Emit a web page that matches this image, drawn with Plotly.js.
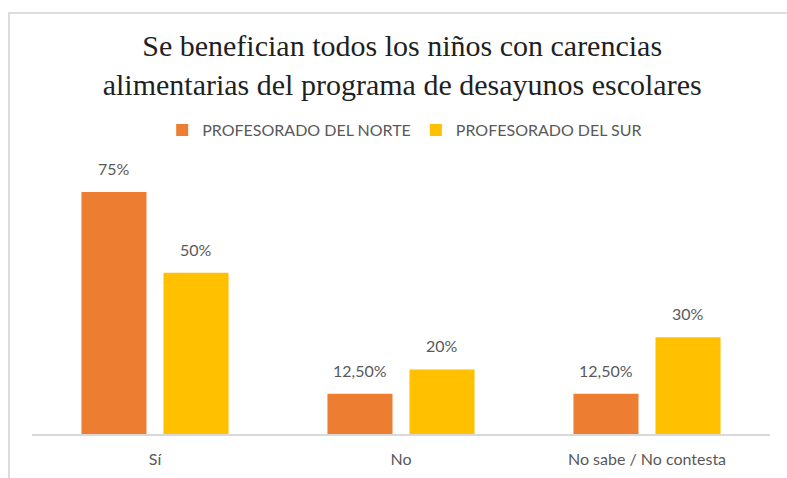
<!DOCTYPE html>
<html>
<head>
<meta charset="utf-8">
<script src="https://cdn.plot.ly/plotly-3.0.1.min.js"></script>
<style>
  body { margin: 0; background: #fff; overflow: hidden; }
  #chart { width: 787px; height: 478px; }
  #frame {
    position: absolute; left: 8px; top: 12px; width: 790px; height: 480px;
    border-left: 2px solid #dcdcdc; border-top: 2px solid #dcdcdc;
    pointer-events: none;
  }
</style>
</head>
<body>
<div id="chart"></div>
<div id="frame"></div>
<script>
var categories = ["Sí", "No", "No sabe / No contesta"];
var norte = [0.75, 0.125, 0.125];
var sur = [0.50, 0.20, 0.30];
var norteLabels = ["75%", "12,50%", "12,50%"];
var surLabels = ["50%", "20%", "30%"];

var labelFont = { family: "Lato, 'Open Sans', sans-serif", size: 16, color: "#595959" };

var data = [
    {
        type: "bar",
        name: "PROFESORADO DEL NORTE",
        x: categories,
        y: norte,
        marker: { color: "#ed7d31" },
        hoverinfo: "skip"
    },
    {
        type: "bar",
        name: "PROFESORADO DEL SUR",
        x: categories,
        y: sur,
        marker: { color: "#ffc000" },
        hoverinfo: "skip"
    }
];

// value labels above each bar
var annotations = [];
function addLabels(values, labels, shift) {
    for (var i = 0; i < categories.length; i++) {
        annotations.push({
            x: categories[i],
            y: values[i],
            xref: "x",
            yref: "y",
            text: labels[i],
            showarrow: false,
            xshift: shift,
            yanchor: "bottom",
            yshift: 12,
            font: labelFont
        });
    }
}
addLabels(norte, norteLabels, -41);
addLabels(sur, surLabels, 41);

var layout = {
    width: 787,
    height: 478,
    paper_bgcolor: "#fff",
    plot_bgcolor: "#fff",
    margin: { l: 32, r: 17, t: 150, b: 44 },
    title: {
        text: "Se benefician todos los niños con carencias<br>alimentarias del programa de desayunos escolares",
        font: { family: "'Liberation Serif', 'Times New Roman', serif", size: 30, color: "#1f1f1f" },
        x: 0.511,
        xanchor: "center",
        y: 0.882,
        yanchor: "top"
    },
    showlegend: true,
    legend: {
        orientation: "h",
        x: 0.505,
        xanchor: "center",
        y: 1.07,
        yanchor: "middle",
        font: { family: "Lato, 'Open Sans', sans-serif", size: 16, color: "#595959" },
        traceorder: "normal"
    },
    barmode: "group",
    bargap: 0.333,
    bargroupgap: 0.207,
    xaxis: {
        type: "category",
        showline: true,
        linecolor: "#d9d9d9",
        linewidth: 1.5,
        ticks: "",
        ticklabelstandoff: 10,
        tickfont: labelFont,
        showgrid: false,
        zeroline: false
    },
    yaxis: {
        range: [0, 0.88],
        visible: false,
        showgrid: false,
        zeroline: false
    },
    annotations: annotations
};

Plotly.newPlot("chart", data, layout, { displayModeBar: false, staticPlot: true });
</script>
</body>
</html>
